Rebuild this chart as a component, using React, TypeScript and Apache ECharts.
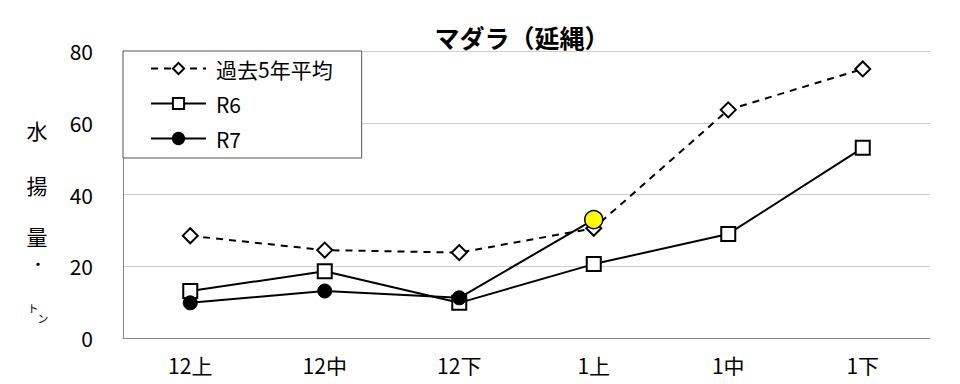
import React, { useEffect, useRef } from "react";
import * as echarts from "echarts";

const categories = ["12上", "12中", "12下", "1上", "1中", "1下"];
const avg5 = [28.5, 24.5, 23.8, 30.6, 63.6, 75.0];
const r6 = [13.1, 18.6, 9.8, 20.6, 29.0, 53.0];
const r7 = [9.8, 13.1, 11.2, 33.0];
const yTicks = { min: 0, max: 80, interval: 20 };
const FONT = "'Noto Sans CJK JP', 'Noto Sans', sans-serif";

export default function App() {
  const ref = useRef<HTMLDivElement>(null);
  useEffect(() => {
    if (!ref.current) return;
    const chart = echarts.init(ref.current, undefined, { renderer: "svg" });
    const r7Data: any[] = r7.map((v, i) =>
      i === r7.length - 1
        ? { value: v, symbolSize: 18, itemStyle: { color: "#ffff00", borderColor: "#000", borderWidth: 1.5 } }
        : v
    );
    chart.setOption({
      animation: false,
      textStyle: { fontFamily: FONT },
      title: {
        text: "マダラ（延縄）",
        left: 517,
        textAlign: "center",
        top: 19,
        textStyle: { fontSize: 25, fontWeight: "bold", color: "#000", fontFamily: FONT },
      },
      grid: { left: 123, right: 30, top: 51, bottom: 46 },
      legend: {
        orient: "vertical",
        left: 123,
        top: 51,
        padding: [7, 29, 9, 27],
        itemGap: 14,
        itemWidth: 55,
        itemHeight: 14,
        backgroundColor: "#fff",
        borderColor: "#555",
        borderWidth: 1,
        borderRadius: 0,
        textStyle: { fontSize: 21, lineHeight: 21, color: "#000", fontFamily: FONT, padding: [0, 0, 0, 5] },
        data: ["過去5年平均", "R6", "R7"],
      },
      xAxis: {
        type: "category",
        data: categories,
        boundaryGap: true,
        axisLine: { lineStyle: { color: "#888", width: 1 } },
        axisTick: { inside: true, length: 5, lineStyle: { color: "#888" } },
        axisLabel: { fontSize: 21, color: "#000", margin: 16, fontFamily: FONT },
      },
      yAxis: {
        type: "value",
        min: yTicks.min,
        max: yTicks.max,
        interval: yTicks.interval,
        axisLine: { show: true, lineStyle: { color: "#888" } },
        axisTick: { show: false },
        splitLine: { lineStyle: { color: "#cfcfcf", width: 1 } },
        axisLabel: { fontSize: 21, color: "#000", margin: 30, fontFamily: FONT },
      },
      graphic: [
        { type: "text", x: 37, y: 130, style: { text: "水", fill: "#000", align: "center", verticalAlign: "middle", font: `21px ${FONT}` } },
        { type: "text", x: 37, y: 185, style: { text: "揚", fill: "#000", align: "center", verticalAlign: "middle", font: `21px ${FONT}` } },
        { type: "text", x: 37, y: 236, style: { text: "量", fill: "#000", align: "center", verticalAlign: "middle", font: `21px ${FONT}` } },
        { type: "text", x: 38, y: 263, style: { text: "・", fill: "#000", align: "center", verticalAlign: "middle", font: `bold 13px ${FONT}` } },
        { type: "text", x: 33, y: 308, style: { text: "ト", fill: "#000", align: "center", verticalAlign: "middle", font: `11px ${FONT}` } },
        { type: "text", x: 43, y: 318, style: { text: "ン", fill: "#000", align: "center", verticalAlign: "middle", font: `11px ${FONT}` } },
      ],
      series: [
        {
          name: "過去5年平均",
          type: "line",
          data: avg5,
          symbol: "diamond",
          symbolSize: 15,
          lineStyle: { color: "#000", width: 2, type: [7, 6] },
          itemStyle: { color: "#fff", borderColor: "#000", borderWidth: 2 },
          z: 2,
        },
        {
          name: "R6",
          type: "line",
          data: r6,
          symbol: "rect",
          symbolSize: 14,
          lineStyle: { color: "#000", width: 2 },
          itemStyle: { color: "#fff", borderColor: "#000", borderWidth: 2 },
          z: 3,
        },
        {
          name: "R7",
          type: "line",
          data: r7Data,
          symbol: "circle",
          symbolSize: 14,
          lineStyle: { color: "#000", width: 2 },
          itemStyle: { color: "#000", borderColor: "#000", borderWidth: 1 },
          z: 4,
        },
      ],
    });
    return () => chart.dispose();
  }, []);
  return <div ref={ref} style={{ width: 960, height: 384, margin: -8 }} />;
}
